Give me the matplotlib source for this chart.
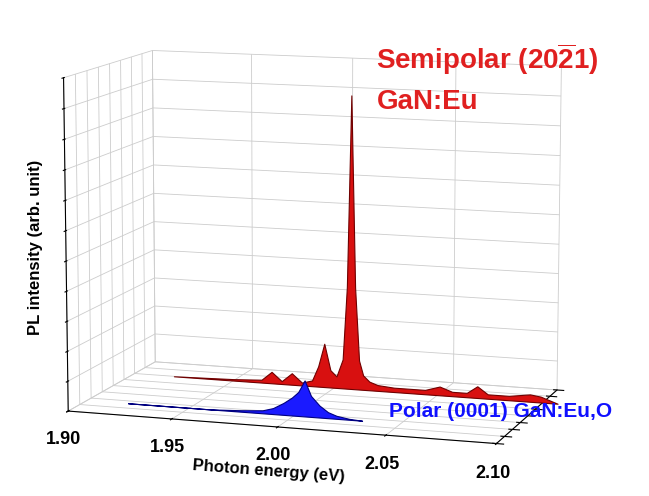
import numpy as np
import matplotlib
matplotlib.use("Agg")
import matplotlib.pyplot as plt
from mpl_toolkits.mplot3d.art3d import Poly3DCollection

plt.rcParams['font.family'] = ['Liberation Sans', 'DejaVu Sans']
plt.rcParams['mathtext.fontset'] = 'custom'
plt.rcParams['mathtext.bf'] = 'Liberation Sans:bold'
plt.rcParams['mathtext.rm'] = 'Liberation Sans:bold'

# Spectra (photon energy eV, intensity arb.)
red_x = [1.920, 1.950, 1.964, 1.969, 1.974, 1.979, 1.984, 1.989, 1.992, 1.995, 1.998, 2.001,
         2.004, 2.006, 2.008, 2.010, 2.012, 2.014, 2.017, 2.021, 2.029, 2.044, 2.051, 2.057, 2.064,
         2.069, 2.074, 2.084, 2.094, 2.099, 2.107]
red_y = [0.0, 0.005, 0.01, 0.04, 0.01, 0.04, 0.01, 0.02, 0.07, 0.15, 0.06, 0.04, 0.10, 0.35,
         1.00, 0.35, 0.10, 0.05, 0.03, 0.02, 0.015, 0.015, 0.03, 0.015, 0.015, 0.04, 0.015, 0.015,
         0.025, 0.02, 0.0]
blue_x = [1.920, 1.960, 1.975, 1.985, 1.990, 1.995, 1.999, 2.002, 2.005, 2.008, 2.012, 2.016,
          2.020, 2.026, 2.032]
blue_y = [0.0, 0.0, 0.005, 0.01, 0.02, 0.04, 0.06, 0.08, 0.12, 0.07, 0.04, 0.02, 0.01, 0.003, 0.0]
depth = {"red": 0.9, "blue": 0.25}

fig = plt.figure(figsize=(6.49, 4.96), dpi=100)
ax = fig.add_axes([-0.15, -0.085, 1.25, 1.18], projection="3d")

def add(xs, ys, yd, face, edge):
    verts = [(xs[0], yd, 0)] + [(x, yd, z) for x, z in zip(xs, ys)] + [(xs[-1], yd, 0)]
    pc = Poly3DCollection([verts], facecolor=face, edgecolor=edge, linewidth=0.8)
    ax.add_collection3d(pc)

add(red_x, red_y, depth["red"], "#d81010", "#700000")
add(blue_x, blue_y, depth["blue"], "#1a1aff", "#000080")

ax.set_xlim(1.90, 2.10)
ax.set_ylim(0, 1.2)
ax.set_zlim(0, 1.1)
ax.set_xticks([1.90, 1.95, 2.00, 2.05, 2.10])
ax.set_xticklabels(["1.90", "1.95", "2.00", "2.05", "2.10"], fontsize=13, fontweight="bold")
ax.set_yticks(np.linspace(0, 1.2, 9))
ax.set_yticklabels([])
ax.set_zticks(np.linspace(0, 1.1, 12))
ax.set_zticklabels([])
ax.set_xlabel("Photon energy (eV)", fontsize=12, fontweight="bold", labelpad=4)
ax.zaxis.set_rotate_label(False)
ax.set_zlabel("PL intensity (arb. unit)", fontsize=12, fontweight="bold", labelpad=-8, rotation=90)
ax.zaxis.set_ticks_position('lower')
ax.zaxis.set_label_position('lower')
for a in (ax.xaxis, ax.yaxis, ax.zaxis):
    a.set_pane_color((1, 1, 1, 0))
    a._axinfo["grid"]["color"] = (0.8, 0.8, 0.8, 1)
    a._axinfo["grid"]["linewidth"] = 0.6
ax.view_init(elev=10, azim=-72)
ax.set_box_aspect((1.45, 0.8, 1.1))

fig.text(0.58, 0.86, r"Semipolar (20$\overline{2}$1)", color="#e02020", fontsize=20, fontweight="bold")
fig.text(0.58, 0.78, "GaN:Eu", color="#e02020", fontsize=20, fontweight="bold")
fig.text(0.60, 0.16, "Polar (0001) GaN:Eu,O", color="#1010ff", fontsize=15, fontweight="bold")

fig.savefig("out.png", dpi=100)
